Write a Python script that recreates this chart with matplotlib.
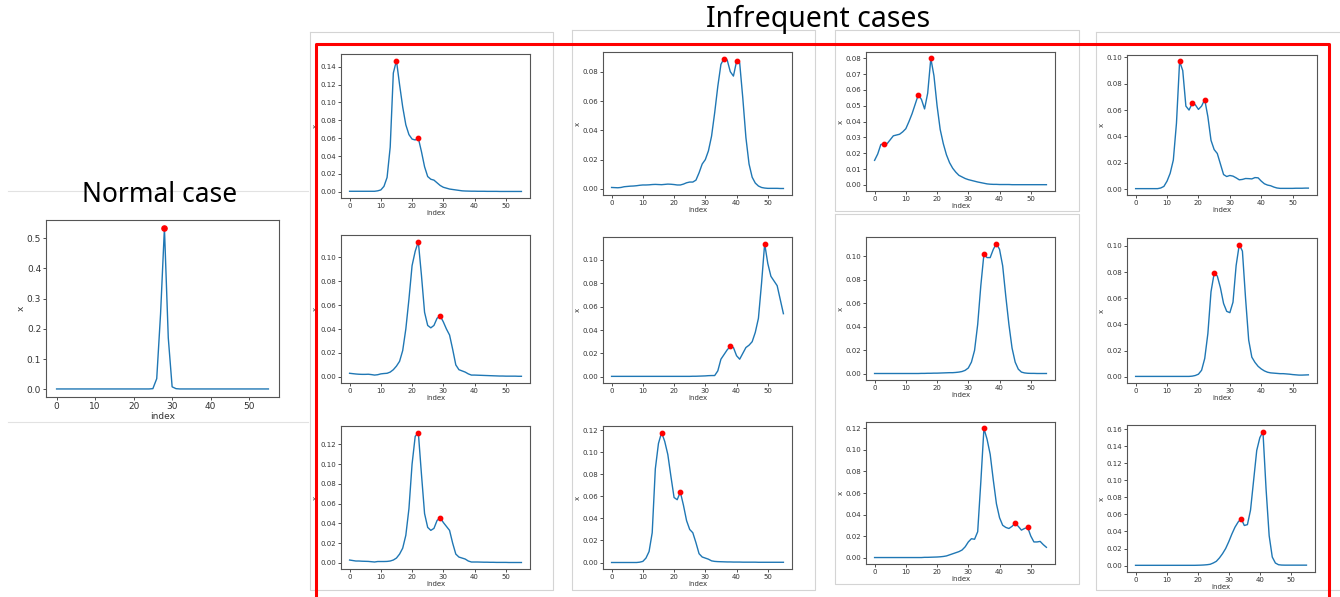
import matplotlib
matplotlib.use("Agg")
import matplotlib.pyplot as plt
from matplotlib.lines import Line2D

W, H = 1340, 597

# ---- data (index 0..55) ----
normal_vals = [0.001] * 25 + [0.002, 0.035, 0.25, 0.533, 0.17, 0.008, 0.002] + [0.001] * 24
normal_peaks = [28]

a_vals = [0.0005] * 9 + [0.001, 0.002, 0.006, 0.016, 0.05, 0.133, 0.147, 0.12, 0.095, 0.075,
                         0.064, 0.059, 0.058, 0.060, 0.045, 0.028, 0.017, 0.014, 0.013, 0.010,
                         0.007, 0.005, 0.004, 0.003, 0.0025, 0.002, 0.0015, 0.001, 0.0008,
                         0.0007, 0.0006, 0.0006, 0.0005, 0.0005, 0.0005, 0.0004, 0.0004, 0.0004,
                         0.0004, 0.0003, 0.0003, 0.0003, 0.0003, 0.0003, 0.0003, 0.0003, 0.0003]
a_peaks = [15, 22]

b_vals = [0.003, 0.0027, 0.0024, 0.0022, 0.0021, 0.0021, 0.0022, 0.0019, 0.0015, 0.0018,
          0.0025, 0.0028, 0.003, 0.004, 0.006, 0.009, 0.013, 0.022, 0.04, 0.065,
          0.093, 0.105, 0.113, 0.085, 0.054, 0.043, 0.041, 0.043, 0.049, 0.051,
          0.046, 0.040, 0.035, 0.023, 0.010, 0.006, 0.005, 0.004, 0.0025, 0.0015,
          0.0015, 0.0014, 0.0013, 0.0012, 0.0011, 0.001, 0.0009, 0.0008, 0.0007, 0.0007,
          0.0006, 0.0006, 0.0006, 0.0006, 0.0005, 0.0005]
b_peaks = [22, 29]

c_vals = [0.003, 0.0025, 0.002, 0.002, 0.0018, 0.0017, 0.0016, 0.0013, 0.001, 0.0015,
          0.0015, 0.0015, 0.0016, 0.002, 0.003, 0.005, 0.009, 0.015, 0.028, 0.055,
          0.10, 0.128, 0.132, 0.09, 0.05, 0.036, 0.033, 0.035, 0.043, 0.046,
          0.041, 0.037, 0.033, 0.02, 0.009, 0.006, 0.005, 0.004, 0.002, 0.001,
          0.001, 0.001, 0.0009, 0.0008, 0.0008, 0.0007, 0.0007, 0.0006, 0.0006, 0.0006,
          0.0006, 0.0005, 0.0005, 0.0005, 0.0005, 0.0005]
c_peaks = [22, 29]

d_vals = [0.001, 0.0009, 0.0008, 0.001, 0.0015, 0.0017, 0.0019, 0.002, 0.0022, 0.0025,
          0.0027, 0.0027, 0.0028, 0.003, 0.0031, 0.003, 0.0029, 0.0031, 0.0033, 0.0032,
          0.003, 0.0027, 0.0027, 0.0033, 0.0042, 0.0047, 0.0047, 0.006, 0.011, 0.017,
          0.020, 0.026, 0.036, 0.052, 0.070, 0.085, 0.089, 0.088, 0.080, 0.077,
          0.087, 0.086, 0.062, 0.035, 0.017, 0.008, 0.004, 0.002, 0.001, 0.0006,
          0.0004, 0.0004, 0.0004, 0.0004, 0.0003, 0.0003]
d_peaks = [36, 40]

e_vals = [0.0003] * 26 + [0.0004, 0.0004, 0.0005, 0.0006,
                          0.0007, 0.0009, 0.001, 0.001, 0.005, 0.015, 0.019, 0.023, 0.026, 0.025,
                          0.018, 0.015, 0.020, 0.025, 0.027, 0.030, 0.038, 0.050, 0.08, 0.114,
                          0.097, 0.086, 0.082, 0.078, 0.066, 0.054]
e_peaks = [38, 49]

l_vals = [0.0] * 9 + [0.0003, 0.001, 0.004, 0.01, 0.027, 0.085, 0.108, 0.118, 0.11, 0.098,
                      0.078, 0.059, 0.057, 0.064, 0.052, 0.038, 0.030, 0.027, 0.018, 0.008,
                      0.005, 0.004, 0.003, 0.0015, 0.001, 0.0008, 0.0007, 0.0006, 0.0005, 0.0005,
                      0.0004, 0.0004, 0.0004, 0.0003, 0.0003, 0.0003, 0.0003, 0.0003, 0.0002, 0.0002,
                      0.0002, 0.0002, 0.0002, 0.0002, 0.0002, 0.0002, 0.0002]
l_peaks = [16, 22]

f_vals = [0.0155, 0.0195, 0.0255, 0.026, 0.026, 0.0285, 0.031, 0.0315, 0.032, 0.0335,
          0.0355, 0.040, 0.045, 0.051, 0.057, 0.054, 0.048, 0.058, 0.080, 0.069,
          0.05, 0.035, 0.026, 0.019, 0.014, 0.0105, 0.008, 0.006, 0.005, 0.004,
          0.0033, 0.0028, 0.0023, 0.0018, 0.0014, 0.001, 0.0006, 0.0004, 0.0003, 0.0003,
          0.0002, 0.0002, 0.0002, 0.0002, 0.0001, 0.0001, 0.0001, 0.0001, 0.0001, 0.0001,
          0.0001, 0.0001, 0.0001, 0.0001, 0.0001, 0.0001]
f_peaks = [3, 14, 18]

g_vals = [0.0003] * 15 + [0.0004, 0.0004, 0.0005, 0.0005, 0.0006,
                          0.0006, 0.0007, 0.0008, 0.0009, 0.001, 0.001, 0.0012, 0.0015, 0.002, 0.003,
                          0.005, 0.01, 0.02, 0.042, 0.075, 0.102, 0.099, 0.099, 0.106, 0.111,
                          0.106, 0.092, 0.066, 0.042, 0.022, 0.01, 0.004, 0.0015, 0.0008, 0.0005,
                          0.0004, 0.0004, 0.0003, 0.0003, 0.0003, 0.0003]
g_peaks = [35, 39]

h_vals = [0.0] * 16 + [0.0002, 0.0002, 0.0003, 0.0004,
                       0.0005, 0.0007, 0.001, 0.0015, 0.0025, 0.0035, 0.0045, 0.0055, 0.007, 0.01,
                       0.0145, 0.0175, 0.017, 0.024, 0.07, 0.12, 0.11, 0.096, 0.072, 0.05,
                       0.037, 0.030, 0.028, 0.027, 0.029, 0.032, 0.029, 0.0255, 0.027, 0.028,
                       0.02, 0.0145, 0.0145, 0.015, 0.012, 0.0095]
h_peaks = [35, 45, 49]

i_vals = [0.0003] * 8 + [0.0008, 0.002, 0.006, 0.012, 0.022, 0.05, 0.097, 0.09, 0.063, 0.060,
                         0.065, 0.064, 0.0605, 0.063, 0.068, 0.055, 0.037, 0.030, 0.027, 0.019,
                         0.011, 0.0095, 0.0103, 0.0098, 0.0085, 0.007, 0.0073, 0.008, 0.0079, 0.0077,
                         0.0087, 0.0085, 0.006, 0.004, 0.003, 0.0025, 0.0015, 0.0008, 0.0005, 0.0005,
                         0.0005, 0.0005, 0.0005, 0.0006, 0.0006, 0.0006, 0.0007, 0.0007]
i_peaks = [14, 18, 22]

j_vals = [0.0003] * 18 + [0.0005, 0.001, 0.002, 0.005, 0.014, 0.033, 0.065, 0.079, 0.077, 0.068,
                          0.056, 0.050, 0.049, 0.057, 0.085, 0.101, 0.096, 0.06, 0.028, 0.015,
                          0.011, 0.008, 0.006, 0.0045, 0.0035, 0.003, 0.0028, 0.0026, 0.0024, 0.0024,
                          0.0022, 0.002, 0.0017, 0.0015, 0.0013, 0.0013, 0.0014, 0.0015]
j_peaks = [25, 33]

k_vals = [0.0003] * 20 + [0.0004, 0.0005, 0.0007, 0.001, 0.0015, 0.003, 0.005, 0.009, 0.014, 0.02,
                          0.028, 0.037, 0.045, 0.051, 0.055, 0.047, 0.048, 0.065, 0.1, 0.135,
                          0.15, 0.157, 0.09, 0.035, 0.01, 0.003, 0.001, 0.0006, 0.0005, 0.0005,
                          0.0005, 0.0005, 0.0005, 0.0005, 0.0005, 0.0005]
k_peaks = [34, 41]

# panel boxes in pixels: left, top, right, bottom
panels = [
    (normal_vals, normal_peaks, (46, 220, 279, 397), 6.5),
    (a_vals, a_peaks, (341, 54, 530, 198), 5),
    (b_vals, b_peaks, (341, 235, 530, 383), 5),
    (c_vals, c_peaks, (341, 426, 530, 569), 5),
    (d_vals, d_peaks, (603, 52, 792, 195), 5),
    (e_vals, e_peaks, (603, 237, 792, 383), 5),
    (l_vals, l_peaks, (603, 426, 792, 569), 5),
    (f_vals, f_peaks, (866, 52, 1055, 191), 5),
    (g_vals, g_peaks, (866, 237, 1055, 380), 5),
    (h_vals, h_peaks, (866, 422, 1055, 564), 5),
    (i_vals, i_peaks, (1127, 55, 1317, 195), 5),
    (j_vals, j_peaks, (1127, 238, 1317, 383), 5),
    (k_vals, k_peaks, (1127, 425, 1315, 572), 5),
]

fig = plt.figure(figsize=(W / 100, H / 100), dpi=100)
fig.patch.set_facecolor("white")

# light gray screenshot frames
gray = "#d4d4d4"
frames = [(310, 32, 553, 590), (572, 30, 815, 590), (835, 30, 1079, 211),
          (835, 214, 1079, 584), (1096, 32, 1345, 590)]
for l, t, r, b in frames:
    xs = [l, r, r, l, l]
    ys = [t, t, b, b, t]
    fig.add_artist(Line2D([x / W for x in xs], [1 - y / H for y in ys], color=gray, lw=0.8))
for y in (191, 422):
    fig.add_artist(Line2D([8 / W, 308 / W], [1 - y / H] * 2, color="#e2e2e2", lw=0.8))

for vals, peaks, (l, t, r, b), fs in panels:
    ax = fig.add_axes([l / W, 1 - b / H, (r - l) / W, (b - t) / H])
    x = list(range(len(vals)))
    ax.plot(x, vals, color="#1f77b4", lw=1.0)
    ax.scatter(peaks, [vals[p] for p in peaks], color="red", s=10 if fs < 6 else 14, zorder=3)
    ax.set_xticks([0, 10, 20, 30, 40, 50])
    ax.tick_params(labelsize=fs, length=2, width=0.6, pad=1.5, colors="#333333")
    ax.set_xlabel("index", fontsize=fs, labelpad=1, color="#333333")
    ax.set_ylabel("x", fontsize=fs, labelpad=1, color="#333333")
    for s in ax.spines.values():
        s.set_color("#555555")
        s.set_linewidth(0.8)

# red highlight box
red_x = [316, 316, 1329, 1329]
red_y = [600, 44, 44, 600]
fig.add_artist(Line2D([v / W for v in red_x], [1 - v / H for v in red_y], color="red", lw=2.2))

fig.text(160 / W, 1 - 195 / H, "Normal case", ha="center", va="center",
         fontsize=19, family="Noto Sans")
fig.text(818 / W, 1 - 19 / H, "Infrequent cases", ha="center", va="center",
         fontsize=20.5, family="Noto Sans")

fig.savefig("out.png", dpi=100, facecolor="white")
